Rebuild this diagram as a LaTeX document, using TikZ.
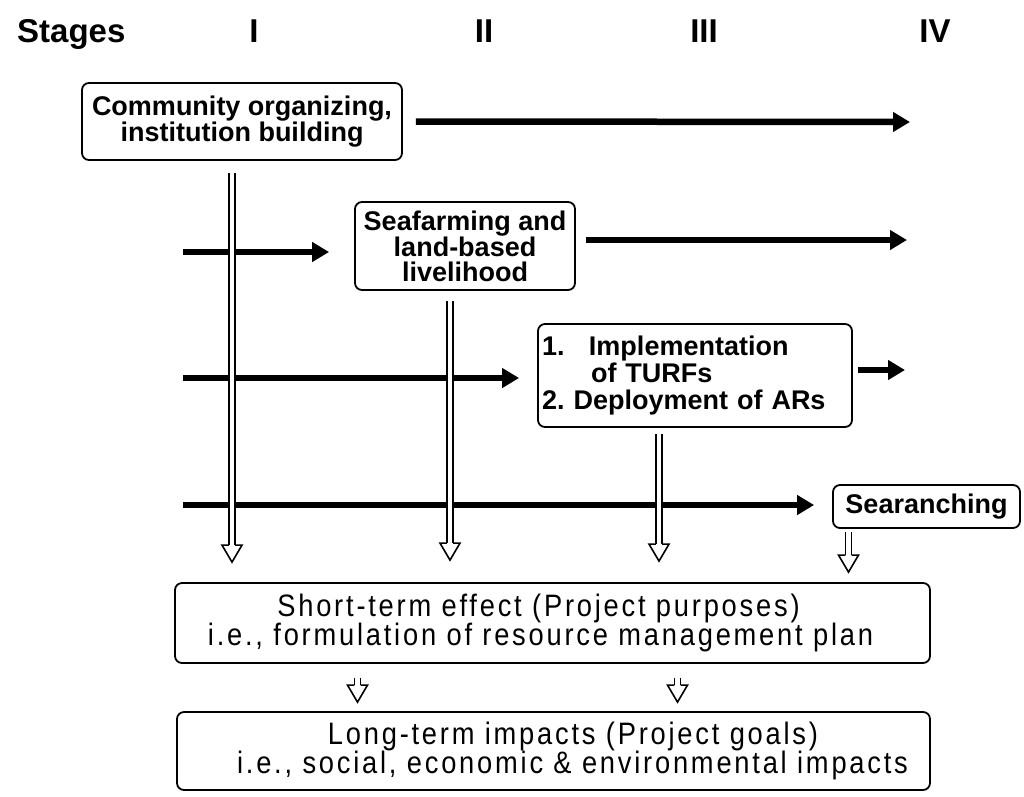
\documentclass[tikz,border=0pt]{standalone}
\usepackage{fontspec}
\setmainfont{Liberation Sans}
\newfontfamily\spacedfont{Liberation Sans}[LetterSpace=9, FakeStretch=0.88]
\usetikzlibrary{arrows.meta,calc}
\newcommand\hollowarrow[2]{%
  \draw[line width=1.6pt, double distance=4.6pt] (#1) -- ($(#2)+(0,-17)$);
  \draw[line width=1.6pt, fill=white, line join=miter]
    ($(#2)+(-3.1,-17)$) -- ($(#2)+(-10,-17)$) -- (#2) -- ($(#2)+(10,-17)$) -- ($(#2)+(3.1,-17)$);
}
\begin{document}
\begin{tikzpicture}[x=1pt,y=-1pt,
  box/.style={draw, line width=1.8pt, rounded corners=7pt, inner sep=0pt},
  hdr/.style={font=\bfseries\fontsize{33}{33}\selectfont, inner sep=0pt},
  bt/.style={font=\bfseries\fontsize{27}{22}\selectfont},
  lt/.style={font=\spacedfont\fontsize{31}{26}\selectfont},
  fat/.style={line width=6.5pt, -{Triangle[length=17pt,width=19pt]}},
  ]
\useasboundingbox (0,0) rectangle (1024,796);

% header
\node[hdr, anchor=base west] (stg) at (17,42) {Stages};
\node[hdr, anchor=base] (s1) at (254,42) {I};
\node[hdr, anchor=base] (s2) at (484,42) {II};
\node[hdr, anchor=base] (s3) at (704,42) {III};
\node[hdr, anchor=base] (s4) at (935,42) {IV};

% boxes
\node[box, bt, minimum width=320pt, minimum height=77pt, align=center] (b1) at (242,121.5)
  {Community organizing,\\institution building};
\node[box, bt, font=\bfseries\fontsize{27}{24.5}\selectfont, minimum width=220pt, minimum height=88pt, align=center] (b2) at (465,246)
  {Seafarming and\\land-based\\livelihood};
\node[box, bt, font=\bfseries\fontsize{27}{27}\selectfont, minimum width=314pt, minimum height=103pt,
      text width=306pt, inner xsep=4pt, align=left] (b3) at (695,375.5)
  {\makebox[47pt][l]{1.}Implementation\\\hspace*{49pt}of TURFs\\2.\ Deployment of ARs};
\node[box, bt, minimum width=187pt, minimum height=43pt] (b4) at (926.5,506.5) {Searanching};
\node[box, lt, minimum width=755pt, minimum height=80pt, text width=745pt, inner xsep=5pt, align=center] (b5) at (552.5,623)
  {\hspace*{-28pt}Short-term effect (Project purposes)\\\hspace*{-24pt}i.e., formulation of resource management plan};
\node[box, lt, minimum width=753pt, minimum height=78pt, text width=743pt, inner xsep=5pt, align=center] (b6) at (553.5,751)
  {\hspace*{39pt}Long-term impacts (Project goals)\\\hspace*{38pt}i.e., social, economic \& environmental impacts};

% free ends of the stage arrows
\coordinate (r1) at (910,122);
\coordinate (l2) at (183,252);
\coordinate (r2) at (907,240);
\coordinate (l3) at (183,378);
\coordinate (r3) at (905,370);
\coordinate (l4) at (183,505);

% thick stage arrows
\draw[fat] ($(b1.east)+(13,0)$) -- (r1);
\draw[fat] (l2) -- ($(b2.west |- l2)+(-25,0)$);
\draw[fat] ($(b2.east |- r2)+(10,0)$) -- (r2);
\draw[fat] (l3) -- ($(b3.west |- l3)+(-18,0)$);
\draw[fat] ($(b3.east |- r3)+(5,0)$) -- (r3);
\draw[fat] (l4) -- ($(b4.west |- l4)+(-18,0)$);

% hollow arrows
\coordinate (h1s) at ($(b1.south)+(-10,12)$);
\coordinate (h1e) at ($(b5.north -| h1s)+(0,-20)$);
\coordinate (h2s) at ($(b2.south)+(-15,10)$);
\coordinate (h2e) at ($(b5.north -| h2s)+(0,-22)$);
\coordinate (h3s) at ($(b3.south)+(-36,6)$);
\coordinate (h3e) at ($(b5.north -| h3s)+(0,-21)$);
\coordinate (h4s) at ($(b4.south)+(-78,3)$);
\coordinate (h4e) at ($(b5.north -| h4s)+(0,-10)$);
\coordinate (h5s) at ($(b5.south)+(-195,14)$);
\coordinate (h5e) at ($(b6.north -| h5s)+(0,-9)$);
\coordinate (h6s) at ($(b5.south)+(125,14)$);
\coordinate (h6e) at ($(b6.north -| h6s)+(0,-9)$);
\hollowarrow{h1s}{h1e}
\hollowarrow{h2s}{h2e}
\hollowarrow{h3s}{h3e}
\hollowarrow{h4s}{h4e}
\hollowarrow{h5s}{h5e}
\hollowarrow{h6s}{h6e}
\end{tikzpicture}
\end{document}
